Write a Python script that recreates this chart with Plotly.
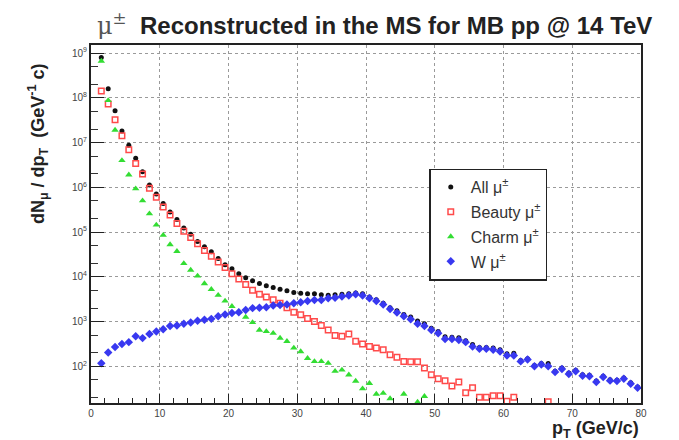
import plotly.graph_objects as go

# ---------------- data ----------------
pt_bin_centers = [
    1.5, 2.5, 3.5, 4.5, 5.5, 6.5, 7.5, 8.5, 9.5, 10.5,
    11.5, 12.5, 13.5, 14.5, 15.5, 16.5, 17.5, 18.5, 19.5, 20.5,
    21.5, 22.5, 23.5, 24.5, 25.5, 26.5, 27.5, 28.5, 29.5, 30.5,
    31.5, 32.5, 33.5, 34.5, 35.5, 36.5, 37.5, 38.5, 39.5, 40.5,
    41.5, 42.5, 43.5, 44.5, 45.5, 46.5, 47.5, 48.5, 49.5, 50.5,
    51.5, 52.5, 53.5, 54.5, 55.5, 56.5, 57.5, 58.5, 59.5, 60.5,
    61.5, 62.5, 63.5, 64.5, 65.5, 66.5, 67.5, 68.5, 69.5, 70.5,
    71.5, 72.5, 73.5, 74.5, 75.5, 76.5, 77.5, 78.5, 79.5,
]

# log10 of dN/dpT
all_mu_log10 = [
    8.90, 8.20, 7.71, 7.26, 6.94, 6.65, 6.35, 6.05, 5.85, 5.64,
    5.45, 5.28, 5.09, 4.95, 4.79, 4.67, 4.56, 4.41, 4.27, 4.18,
    4.07, 3.98, 3.91, 3.85, 3.80, 3.76, 3.72, 3.69, 3.65, 3.63,
    3.62, 3.62, 3.60, 3.59, 3.60, 3.61, 3.62, 3.64, 3.62, 3.55,
    3.49, 3.41, 3.31, 3.24, 3.16, 3.10, 3.01, 2.95, 2.85, 2.78,
    2.66, 2.65, 2.64, 2.57, 2.49, 2.42, 2.42, 2.41, 2.37, 2.28,
    2.29, 2.13, 2.17, 2.02, 2.06, 2.06, 1.89, 1.96, 1.85, 1.91,
    1.81, 1.80, 1.67, 1.78, 1.70, 1.69, 1.74, 1.63, 1.54,
]

beauty_mu_log10 = [
    8.15, 7.86, 7.51, 7.15, 6.84, 6.53, 6.30, 5.98, 5.78, 5.56,
    5.38, 5.19, 5.02, 4.88, 4.74, 4.59, 4.46, 4.33, 4.21, 4.07,
    3.95, 3.83, 3.70, 3.61, 3.55, 3.49, 3.41, 3.31, 3.21, 3.15,
    3.07, 3.00, 2.91, 2.81, 2.69, 2.67, 2.72, 2.56, 2.50, 2.44,
    2.41, 2.37, 2.26, 2.20, 2.11, 2.10, 2.10, 1.96, 1.81, 1.72,
    1.68, 1.56, 1.65, 1.41, 1.52, 1.31, 1.31, 1.34, 1.34, 1.22,
    1.31, None, None, None, None, 1.21, None, None, None, None,
    None, None, None, None, None, None, None, None, None,
]

charm_mu_log10 = [
    8.82, 7.94, 7.28, 6.60, 6.28, 5.97, 5.70, 5.41, 5.16, 4.93,
    4.72, 4.57, 4.30, 4.15, 4.02, 3.85, 3.72, 3.59, 3.46, 3.34,
    3.22, 3.10, 2.98, 2.81, 2.78, 2.74, 2.63, 2.56, 2.41, 2.33,
    2.18, 2.11, 2.11, 2.07, 1.89, 1.92, 1.81, 1.67, 1.50, 1.62,
    1.38, 1.40, 1.28, None, 1.38, None, 1.20, 1.33, None, None,
    None, None, None, None, None, None, None, None, None, None,
    None, None, None, None, None, None, None, None, None, None,
    None, None, None, None, None, None, None, None, None,
]

w_mu_log10 = [
    2.07, 2.31, 2.43, 2.50, 2.54, 2.67, 2.63, 2.72, 2.78, 2.83,
    2.90, 2.91, 2.95, 2.98, 3.02, 3.04, 3.06, 3.12, 3.16, 3.19,
    3.21, 3.26, 3.30, 3.31, 3.32, 3.36, 3.37, 3.38, 3.41, 3.43,
    3.46, 3.48, 3.48, 3.52, 3.53, 3.56, 3.58, 3.61, 3.58, 3.52,
    3.46, 3.38, 3.28, 3.20, 3.12, 3.05, 2.95, 2.90, 2.81, 2.74,
    2.61, 2.61, 2.59, 2.54, 2.44, 2.39, 2.39, 2.37, 2.33, 2.24,
    2.24, 2.11, 2.15, 2.00, 2.04, 2.00, 1.87, 1.94, 1.83, 1.89,
    1.79, 1.78, 1.65, 1.76, 1.68, 1.67, 1.72, 1.61, 1.52,
]

series_names = ["All μ<sup>±</sup>", "Beauty μ<sup>±</sup>", "Charm μ<sup>±</sup>", "W μ<sup>±</sup>"]
x_tick_values = [0, 10, 20, 30, 40, 50, 60, 70, 80]
y_tick_exponents = [2, 3, 4, 5, 6, 7, 8, 9]


def to_linear(vals):
    return [None if v is None else 10 ** v for v in vals]


styles = [
    dict(symbol="circle", size=5, color="#111111", line=dict(width=0)),
    dict(symbol="square-open", size=5.5, color="#ff4a4a", line=dict(width=1.5, color="#ff4a4a")),
    dict(symbol="triangle-up", size=6.5, color="#33dd33", line=dict(width=0)),
    dict(symbol="diamond", size=6.5, color="#3838f0", line=dict(width=0)),
]

fig = go.Figure()
for i, (name, vals) in enumerate(zip(series_names,
                                     [all_mu_log10, beauty_mu_log10, charm_mu_log10, w_mu_log10])):
    fig.add_trace(go.Scatter(
        x=pt_bin_centers, y=to_linear(vals), mode="markers", name=name,
        marker=styles[i], legendgroup=f"g{i}", cliponaxis=True,
    ))

fig.update_layout(
    width=679, height=440,
    margin=dict(l=83, r=46, t=37, b=45),
    paper_bgcolor="white", plot_bgcolor="white",
    font=dict(family="Liberation Sans, Arial, sans-serif", color="#222"),
    showlegend=True,
    legend=dict(
        x=0.615, y=0.655, xanchor="left", yanchor="top",
        bgcolor="white", bordercolor="#222", borderwidth=1.5,
        font=dict(size=16, color="#333"),
        tracegroupgap=1, itemwidth=30,
    ),
)

fig.update_xaxes(
    range=[0, 80], tickvals=x_tick_values, ticktext=[str(v) for v in x_tick_values],
    ticks="inside", ticklen=9, tickwidth=1.2, tickcolor="#222",
    minor=dict(ticks="inside", dtick=2, ticklen=5, tickcolor="#222", showgrid=False),
    showline=True, linecolor="#222", linewidth=2, mirror=True,
    showgrid=True, gridcolor="#9a9a9a", griddash="dot", gridwidth=1,
    tickfont=dict(size=10, color="#444"), zeroline=False,
)

fig.update_yaxes(
    type="log", range=[1.18, 9.18],
    tickvals=[10 ** e for e in y_tick_exponents],
    ticktext=[f"10<sup>{e}</sup>" for e in y_tick_exponents],
    ticks="inside", ticklen=13, tickwidth=1.2, tickcolor="#222",
    minor=dict(ticks="inside", ticklen=7, tickcolor="#333", showgrid=False),
    showline=True, linecolor="#222", linewidth=2, mirror=True,
    showgrid=True, gridcolor="#9a9a9a", griddash="dot", gridwidth=1,
    tickfont=dict(size=10, color="#444"), zeroline=False,
)

# title
fig.add_annotation(
    xref="paper", yref="paper", x=0.515, y=1.058, xanchor="center", yanchor="middle",
    text="<span style='font-family:DejaVu Serif;font-weight:normal;color:#555'>μ<sup>±</sup></span>  "
         "<b>Reconstructed in the MS for MB pp @ 14 TeV</b>",
    showarrow=False, font=dict(size=24, color="#222"),
)
# y-axis title
fig.add_annotation(
    xref="paper", yref="paper", x=-0.097, y=0.725, xanchor="center", yanchor="middle",
    text="<b>dN<sub>μ</sub> / dp<sub>T</sub>  (GeV<sup>-1</sup> c)</b>", textangle=-90,
    showarrow=False, font=dict(size=18, color="#222"),
)
# x-axis title
fig.add_annotation(
    xref="paper", yref="paper", x=1.0, y=-0.075, xanchor="right", yanchor="middle",
    text="<b>p<sub>T</sub> (GeV/c)</b>",
    showarrow=False, font=dict(size=18, color="#222"),
)

fig.write_html("out.html")
